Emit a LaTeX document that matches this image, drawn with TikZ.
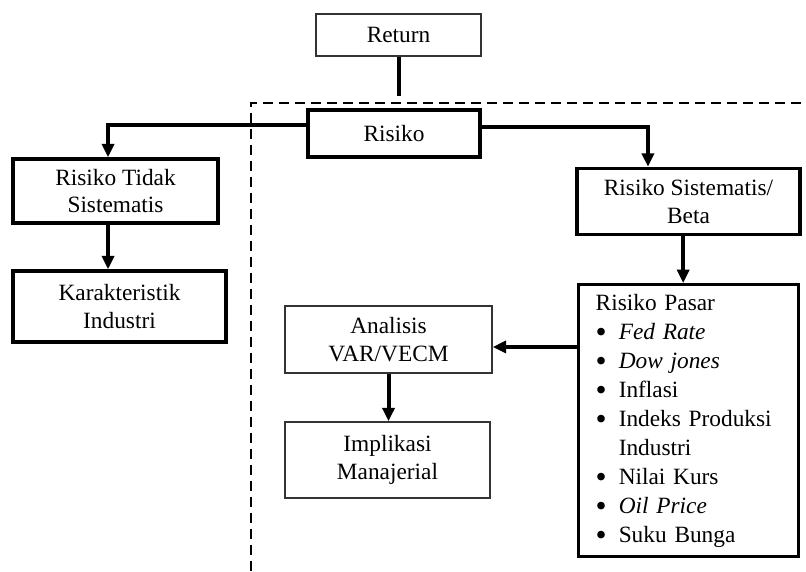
\documentclass[tikz,border=0pt]{standalone}
\usepackage{fontspec}
\usepackage{graphicx}
\setmainfont{Liberation Serif}
\usetikzlibrary{arrows.meta,positioning}
\newcommand{\itemdot}{\raisebox{-0.25ex}{\scalebox{1.35}{\textbullet}}}
\tikzset{
  font=\fontsize{17.5}{20.5}\selectfont,
  >={Triangle[length=10pt,width=9pt]},
  flow/.style={draw=black, line width=3pt, ->},
  link/.style={draw=black, line width=3pt},
  dashframe/.style={draw=black, line width=1.5pt, dash pattern=on 7.5pt off 4.5pt},
  thickbox/.style={draw=black, line width=2.6pt, align=center, inner sep=2pt},
  thinbox/.style={draw=black!80, line width=1.1pt, align=center, inner sep=2pt}
}

\begin{document}
\begin{tikzpicture}[x=0.75pt,y=-0.75pt]
  \useasboundingbox (0,0) rectangle (806,571);

  % dashed frame round the systematic side
  \draw[dashframe] (251,571) |- (806,103);

  % top
  \node[thinbox, minimum width=123.75pt, minimum height=31.5pt] (return) at (398.5,35) {Return};
  \node[thickbox, minimum width=129pt, minimum height=35.25pt] (risiko) at (394,133.5) {Risiko};

  % left branch
  \node[thickbox, minimum width=153.75pt, minimum height=48pt] (rts) at (115.5,191)
    {Risiko Tidak\\Sistematis};
  \node[thickbox, minimum width=159.75pt, minimum height=53.25pt] (ki) at (119.5,306.5)
    {Karakteristik\\Industri};

  % right branch
  \node[thickbox, minimum width=167.25pt, minimum height=49.5pt] (rsb) at (688.5,201.5)
    {Risiko Sistematis/\\Beta};
  \node[thickbox, minimum height=204pt, text width=139.5pt, inner xsep=12.75pt,
    align=left, anchor=north west] (rp) at (577,283)
    {\fontsize{17.5}{21.75}\selectfont
     \begin{tabular}{@{}l@{\hspace{9pt}}l@{}}
       \multicolumn{2}{@{}l@{}}{Risiko Pasar}\\
       \itemdot & \textit{Fed Rate}\\
       \itemdot & \textit{Dow jones}\\
       \itemdot & Inflasi\\
       \itemdot & Indeks Produksi\\
                & Industri\\
       \itemdot & Nilai Kurs\\
       \itemdot & \textit{Oil Price}\\
       \itemdot & Suku Bunga
     \end{tabular}};

  % analysis
  \node[thinbox, minimum width=155.25pt, minimum height=50.25pt] (ana) at (388.5,339.5)
    {Analisis\\VAR/VECM};
  \node[thinbox, minimum width=153.75pt, minimum height=57pt] (imp) at (387.5,460)
    {Implikasi\\Manajerial};

  % connectors
  \coordinate (retend) at (398.5,96);
  \draw[link] (return.south) -- (retend);
  \draw[flow] ([yshift=6.4pt]risiko.west) -| ([xshift=-5.6pt]rts.north);
  \draw[flow] ([yshift=5pt]risiko.east) -| ([xshift=-30.4pt]rsb.north);
  \coordinate (lx) at ([xshift=-5.6pt]rts.south);
  \draw[flow] (lx) -- (lx |- ki.north);
  \coordinate (rx) at ([xshift=-4pt]rsb.south);
  \draw[flow] (rx) -- (rx |- rp.north);
  \coordinate (py) at ([yshift=-5.6pt]ana.east);
  \draw[flow] (py -| rp.west) -- (py);
  \draw[flow] (ana.south) -- (ana.south |- imp.north);
\end{tikzpicture}
\end{document}
